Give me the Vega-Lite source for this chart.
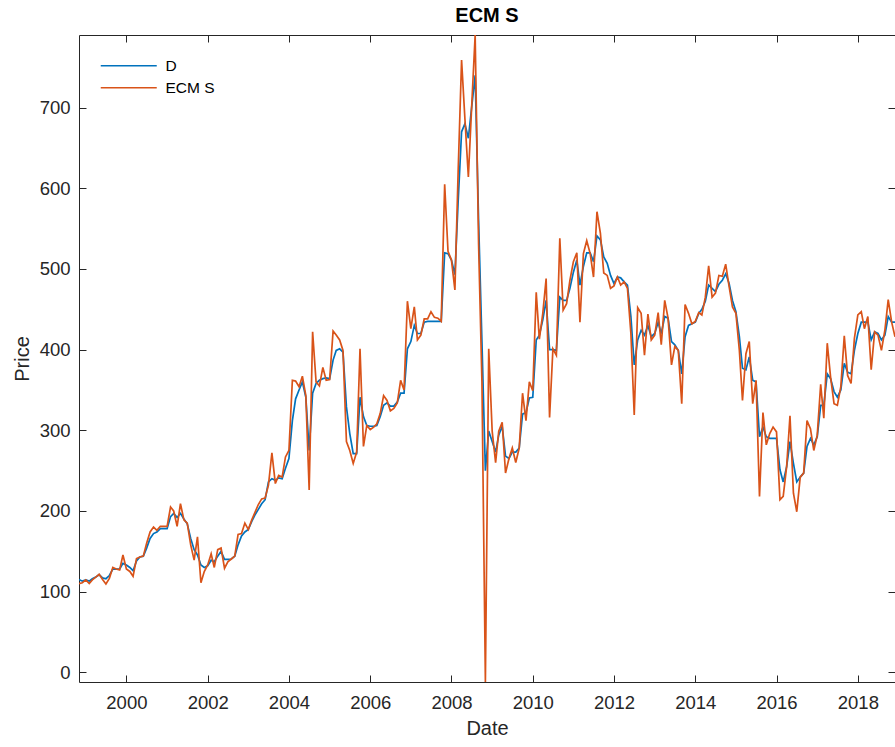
{
  "$schema": "https://vega.github.io/schema/vega-lite/v6.json",
  "width": 816,
  "height": 647,
  "autosize": "none",
  "padding": {"left": 79, "top": 35, "right": 0, "bottom": 65},
  "background": "white",
  "title": {"text": "ECM S", "fontSize": 20, "fontWeight": "bold", "font": "Liberation Sans", "color": "#000000", "offset": 9, "anchor": "middle"},
  "config": {
    "view": {"stroke": null},
    "font": "Liberation Sans",
    "axis": {"domainColor": "#262626", "tickColor": "#262626", "labelColor": "#262626", "titleColor": "#262626", "labelFont": "Liberation Sans", "titleFont": "Liberation Sans", "labelFontSize": 18.5, "titleFontSize": 20, "titleFontWeight": "normal", "grid": false, "tickSize": -7, "domainWidth": 1, "tickWidth": 1}
  },
  "data": {"values": [
{"date":"1998-11-01","D":115,"ECM S":110},
{"date":"1998-12-01","D":113,"ECM S":111},
{"date":"1999-01-01","D":114.5,"ECM S":114.5},
{"date":"1999-02-01","D":113,"ECM S":110},
{"date":"1999-03-01","D":116,"ECM S":114.5},
{"date":"1999-04-01","D":118,"ECM S":118},
{"date":"1999-05-01","D":121,"ECM S":121.5},
{"date":"1999-06-01","D":117,"ECM S":115},
{"date":"1999-07-01","D":116,"ECM S":109.5},
{"date":"1999-08-01","D":120,"ECM S":116.5},
{"date":"1999-09-01","D":128,"ECM S":130},
{"date":"1999-10-01","D":128,"ECM S":128},
{"date":"1999-11-01","D":128,"ECM S":127},
{"date":"1999-12-01","D":135,"ECM S":145.5},
{"date":"2000-01-01","D":133,"ECM S":128},
{"date":"2000-02-01","D":130,"ECM S":125},
{"date":"2000-03-01","D":126,"ECM S":119},
{"date":"2000-04-01","D":138,"ECM S":141},
{"date":"2000-05-01","D":143,"ECM S":143},
{"date":"2000-06-01","D":144,"ECM S":144},
{"date":"2000-07-01","D":154,"ECM S":160},
{"date":"2000-08-01","D":166,"ECM S":174},
{"date":"2000-09-01","D":172,"ECM S":180},
{"date":"2000-10-01","D":174,"ECM S":176},
{"date":"2000-11-01","D":178,"ECM S":181},
{"date":"2000-12-01","D":178,"ECM S":181},
{"date":"2001-01-01","D":178,"ECM S":181},
{"date":"2001-02-01","D":193,"ECM S":205},
{"date":"2001-03-01","D":197,"ECM S":200},
{"date":"2001-04-01","D":192,"ECM S":181},
{"date":"2001-05-01","D":197,"ECM S":209},
{"date":"2001-06-01","D":190,"ECM S":189},
{"date":"2001-07-01","D":184,"ECM S":185},
{"date":"2001-08-01","D":166,"ECM S":158},
{"date":"2001-09-01","D":152,"ECM S":139},
{"date":"2001-10-01","D":145.5,"ECM S":168},
{"date":"2001-11-01","D":133,"ECM S":111},
{"date":"2001-12-01","D":130,"ECM S":125},
{"date":"2002-01-01","D":132,"ECM S":133},
{"date":"2002-02-01","D":139,"ECM S":147},
{"date":"2002-03-01","D":137,"ECM S":130},
{"date":"2002-04-01","D":144,"ECM S":152},
{"date":"2002-05-01","D":150,"ECM S":154},
{"date":"2002-06-01","D":140,"ECM S":129},
{"date":"2002-07-01","D":140,"ECM S":137},
{"date":"2002-08-01","D":140.5,"ECM S":140.5},
{"date":"2002-09-01","D":144,"ECM S":144},
{"date":"2002-10-01","D":158,"ECM S":171},
{"date":"2002-11-01","D":169,"ECM S":172},
{"date":"2002-12-01","D":174,"ECM S":185},
{"date":"2003-01-01","D":177,"ECM S":177},
{"date":"2003-02-01","D":187,"ECM S":189},
{"date":"2003-03-01","D":195,"ECM S":198},
{"date":"2003-04-01","D":202,"ECM S":208},
{"date":"2003-05-01","D":209,"ECM S":215},
{"date":"2003-06-01","D":214,"ECM S":216},
{"date":"2003-07-01","D":236,"ECM S":232},
{"date":"2003-08-01","D":240,"ECM S":272},
{"date":"2003-09-01","D":238,"ECM S":234},
{"date":"2003-10-01","D":241,"ECM S":244},
{"date":"2003-11-01","D":240,"ECM S":242},
{"date":"2003-12-01","D":253,"ECM S":267},
{"date":"2004-01-01","D":265,"ECM S":275},
{"date":"2004-02-01","D":312,"ECM S":362},
{"date":"2004-03-01","D":339,"ECM S":361},
{"date":"2004-04-01","D":350,"ECM S":354},
{"date":"2004-05-01","D":360,"ECM S":367},
{"date":"2004-06-01","D":341,"ECM S":343},
{"date":"2004-07-01","D":275,"ECM S":226},
{"date":"2004-08-01","D":346,"ECM S":422},
{"date":"2004-09-01","D":358,"ECM S":360},
{"date":"2004-10-01","D":362,"ECM S":355},
{"date":"2004-11-01","D":364,"ECM S":378},
{"date":"2004-12-01","D":365,"ECM S":362},
{"date":"2005-01-01","D":364,"ECM S":363},
{"date":"2005-02-01","D":387,"ECM S":423},
{"date":"2005-03-01","D":399,"ECM S":418},
{"date":"2005-04-01","D":401,"ECM S":412},
{"date":"2005-05-01","D":397,"ECM S":399},
{"date":"2005-06-01","D":329,"ECM S":286},
{"date":"2005-07-01","D":296,"ECM S":275},
{"date":"2005-08-01","D":271,"ECM S":259},
{"date":"2005-09-01","D":271,"ECM S":273},
{"date":"2005-10-01","D":341,"ECM S":401},
{"date":"2005-11-01","D":317,"ECM S":280},
{"date":"2005-12-01","D":306,"ECM S":306},
{"date":"2006-01-01","D":305,"ECM S":301},
{"date":"2006-02-01","D":305,"ECM S":304},
{"date":"2006-03-01","D":306,"ECM S":308},
{"date":"2006-04-01","D":317,"ECM S":321},
{"date":"2006-05-01","D":331,"ECM S":343},
{"date":"2006-06-01","D":334,"ECM S":337},
{"date":"2006-07-01","D":330,"ECM S":324},
{"date":"2006-08-01","D":330,"ECM S":327},
{"date":"2006-09-01","D":335,"ECM S":334},
{"date":"2006-10-01","D":346,"ECM S":362},
{"date":"2006-11-01","D":346,"ECM S":350},
{"date":"2006-12-01","D":401,"ECM S":460},
{"date":"2007-01-01","D":410,"ECM S":426},
{"date":"2007-02-01","D":430,"ECM S":453},
{"date":"2007-03-01","D":420,"ECM S":412},
{"date":"2007-04-01","D":420,"ECM S":418},
{"date":"2007-05-01","D":434,"ECM S":438},
{"date":"2007-06-01","D":435,"ECM S":438},
{"date":"2007-07-01","D":435,"ECM S":447},
{"date":"2007-08-01","D":435,"ECM S":440},
{"date":"2007-09-01","D":435,"ECM S":439},
{"date":"2007-10-01","D":435,"ECM S":435},
{"date":"2007-11-01","D":520,"ECM S":605},
{"date":"2007-12-01","D":519,"ECM S":522},
{"date":"2008-01-01","D":511,"ECM S":511},
{"date":"2008-02-01","D":493,"ECM S":474},
{"date":"2008-03-01","D":583,"ECM S":620},
{"date":"2008-04-01","D":670,"ECM S":759},
{"date":"2008-05-01","D":680,"ECM S":686},
{"date":"2008-06-01","D":662,"ECM S":614},
{"date":"2008-07-01","D":701,"ECM S":702},
{"date":"2008-08-01","D":740,"ECM S":790},
{"date":"2008-09-01","D":560,"ECM S":530},
{"date":"2008-10-01","D":410,"ECM S":360},
{"date":"2008-11-01","D":250,"ECM S":-12},
{"date":"2008-12-01","D":299,"ECM S":401},
{"date":"2009-01-01","D":286,"ECM S":299},
{"date":"2009-02-01","D":273,"ECM S":260},
{"date":"2009-03-01","D":294,"ECM S":299},
{"date":"2009-04-01","D":305,"ECM S":310},
{"date":"2009-05-01","D":268,"ECM S":247},
{"date":"2009-06-01","D":265,"ECM S":265},
{"date":"2009-07-01","D":273,"ECM S":278},
{"date":"2009-08-01","D":273,"ECM S":260},
{"date":"2009-09-01","D":278,"ECM S":278},
{"date":"2009-10-01","D":320,"ECM S":346},
{"date":"2009-11-01","D":322,"ECM S":312},
{"date":"2009-12-01","D":340,"ECM S":360},
{"date":"2010-01-01","D":341,"ECM S":349},
{"date":"2010-02-01","D":412,"ECM S":471},
{"date":"2010-03-01","D":418,"ECM S":413},
{"date":"2010-04-01","D":437,"ECM S":445},
{"date":"2010-05-01","D":461,"ECM S":488},
{"date":"2010-06-01","D":400,"ECM S":316},
{"date":"2010-07-01","D":400,"ECM S":401},
{"date":"2010-08-01","D":399,"ECM S":393},
{"date":"2010-09-01","D":465,"ECM S":538},
{"date":"2010-10-01","D":461,"ECM S":449},
{"date":"2010-11-01","D":461,"ECM S":457},
{"date":"2010-12-01","D":476,"ECM S":486},
{"date":"2011-01-01","D":496,"ECM S":509},
{"date":"2011-02-01","D":511,"ECM S":520},
{"date":"2011-03-01","D":480,"ECM S":434},
{"date":"2011-04-01","D":503,"ECM S":519},
{"date":"2011-05-01","D":520,"ECM S":535},
{"date":"2011-06-01","D":520,"ECM S":519},
{"date":"2011-07-01","D":509,"ECM S":490},
{"date":"2011-08-01","D":541,"ECM S":571},
{"date":"2011-09-01","D":536,"ECM S":544},
{"date":"2011-10-01","D":515,"ECM S":495},
{"date":"2011-11-01","D":507,"ECM S":492},
{"date":"2011-12-01","D":492,"ECM S":476},
{"date":"2012-01-01","D":482,"ECM S":479},
{"date":"2012-02-01","D":490,"ECM S":490},
{"date":"2012-03-01","D":489,"ECM S":480},
{"date":"2012-04-01","D":484,"ECM S":484},
{"date":"2012-05-01","D":480,"ECM S":476},
{"date":"2012-06-01","D":441,"ECM S":420},
{"date":"2012-07-01","D":381,"ECM S":319},
{"date":"2012-08-01","D":412,"ECM S":452},
{"date":"2012-09-01","D":424,"ECM S":445},
{"date":"2012-10-01","D":418,"ECM S":393},
{"date":"2012-11-01","D":430,"ECM S":444},
{"date":"2012-12-01","D":416,"ECM S":412},
{"date":"2013-01-01","D":420,"ECM S":418},
{"date":"2013-02-01","D":434,"ECM S":446},
{"date":"2013-03-01","D":420,"ECM S":406},
{"date":"2013-04-01","D":441,"ECM S":461},
{"date":"2013-05-01","D":439,"ECM S":439},
{"date":"2013-06-01","D":410,"ECM S":381},
{"date":"2013-07-01","D":406,"ECM S":404},
{"date":"2013-08-01","D":399,"ECM S":399},
{"date":"2013-09-01","D":370,"ECM S":333},
{"date":"2013-10-01","D":416,"ECM S":456},
{"date":"2013-11-01","D":430,"ECM S":445},
{"date":"2013-12-01","D":432,"ECM S":432},
{"date":"2014-01-01","D":434,"ECM S":435},
{"date":"2014-02-01","D":445,"ECM S":446},
{"date":"2014-03-01","D":450,"ECM S":443},
{"date":"2014-04-01","D":460,"ECM S":465},
{"date":"2014-05-01","D":480,"ECM S":504},
{"date":"2014-06-01","D":476,"ECM S":465},
{"date":"2014-07-01","D":472,"ECM S":470},
{"date":"2014-08-01","D":481,"ECM S":492},
{"date":"2014-09-01","D":486,"ECM S":491},
{"date":"2014-10-01","D":494,"ECM S":506},
{"date":"2014-11-01","D":482,"ECM S":478},
{"date":"2014-12-01","D":461,"ECM S":453},
{"date":"2015-01-01","D":447,"ECM S":445},
{"date":"2015-02-01","D":416,"ECM S":399},
{"date":"2015-03-01","D":377,"ECM S":337},
{"date":"2015-04-01","D":375,"ECM S":395},
{"date":"2015-05-01","D":391,"ECM S":410},
{"date":"2015-06-01","D":362,"ECM S":333},
{"date":"2015-07-01","D":360,"ECM S":362},
{"date":"2015-08-01","D":292,"ECM S":218},
{"date":"2015-09-01","D":304,"ECM S":322},
{"date":"2015-10-01","D":292,"ECM S":282},
{"date":"2015-11-01","D":290,"ECM S":296},
{"date":"2015-12-01","D":290,"ECM S":304},
{"date":"2016-01-01","D":290,"ECM S":298},
{"date":"2016-02-01","D":251,"ECM S":214},
{"date":"2016-03-01","D":236,"ECM S":218},
{"date":"2016-04-01","D":255,"ECM S":255},
{"date":"2016-05-01","D":286,"ECM S":318},
{"date":"2016-06-01","D":259,"ECM S":222},
{"date":"2016-07-01","D":236,"ECM S":199},
{"date":"2016-08-01","D":242,"ECM S":242},
{"date":"2016-09-01","D":247,"ECM S":247},
{"date":"2016-10-01","D":280,"ECM S":312},
{"date":"2016-11-01","D":290,"ECM S":302},
{"date":"2016-12-01","D":282,"ECM S":275},
{"date":"2017-01-01","D":292,"ECM S":294},
{"date":"2017-02-01","D":331,"ECM S":357},
{"date":"2017-03-01","D":331,"ECM S":315},
{"date":"2017-04-01","D":370,"ECM S":408},
{"date":"2017-05-01","D":364,"ECM S":366},
{"date":"2017-06-01","D":348,"ECM S":333},
{"date":"2017-07-01","D":341,"ECM S":331},
{"date":"2017-08-01","D":350,"ECM S":354},
{"date":"2017-09-01","D":383,"ECM S":417},
{"date":"2017-10-01","D":372,"ECM S":368},
{"date":"2017-11-01","D":370,"ECM S":358},
{"date":"2017-12-01","D":399,"ECM S":414},
{"date":"2018-01-01","D":420,"ECM S":443},
{"date":"2018-02-01","D":434,"ECM S":447},
{"date":"2018-03-01","D":434,"ECM S":426},
{"date":"2018-04-01","D":434,"ECM S":441},
{"date":"2018-05-01","D":412,"ECM S":375},
{"date":"2018-06-01","D":422,"ECM S":422},
{"date":"2018-07-01","D":420,"ECM S":418},
{"date":"2018-08-01","D":412,"ECM S":399},
{"date":"2018-09-01","D":418,"ECM S":424},
{"date":"2018-10-01","D":441,"ECM S":462},
{"date":"2018-11-01","D":434,"ECM S":434},
{"date":"2018-12-01","D":434,"ECM S":416}
  ]},
  "transform": [{"fold": ["D", "ECM S"], "as": ["series", "price"]}],
  "layer": [
    {
      "mark": {"type": "line", "strokeWidth": 1.7, "clip": true},
      "encoding": {
        "x": {"field": "date", "type": "temporal", "scale": {"type": "utc", "domain": [{"year": 1998, "month": 11, "date": 1, "utc": true}, {"year": 2018, "month": 12, "date": 1, "utc": true}], "nice": false},
          "axis": {"orient": "bottom", "title": "Date", "format": "%Y", "values": [{"year": 2000, "utc": true}, {"year": 2002, "utc": true}, {"year": 2004, "utc": true}, {"year": 2006, "utc": true}, {"year": 2008, "utc": true}, {"year": 2010, "utc": true}, {"year": 2012, "utc": true}, {"year": 2014, "utc": true}, {"year": 2016, "utc": true}, {"year": 2018, "utc": true}], "labelPadding": 18, "titlePadding": 7, "labelFlush": false}},
        "y": {"field": "price", "type": "quantitative", "scale": {"domain": [-12, 790], "nice": false, "zero": false},
          "axis": {"orient": "left", "title": "Price", "values": [0, 100, 200, 300, 400, 500, 600, 700], "labelPadding": 16, "titlePadding": 7, "labelFlush": false}},
        "color": {"field": "series", "type": "nominal", "scale": {"domain": ["D", "ECM S"], "range": ["#0072BD", "#D95319"]},
          "legend": {"orient": "none", "legendX": 42, "legendY": 23, "title": null, "symbolType": "M-28,0H28", "symbolSize": 4, "symbolStrokeWidth": 1.7, "labelFontSize": 15.5, "labelFont": "Liberation Sans", "labelColor": "#000000", "labelOffset": 29, "padding": 0, "rowPadding": 5}}
      }
    },
    {
      "mark": {"type": "line", "strokeOpacity": 0, "clip": true},
      "encoding": {
        "x": {"field": "date", "type": "temporal", "axis": {"orient": "top", "title": null, "labels": false, "values": [{"year": 2000, "utc": true}, {"year": 2002, "utc": true}, {"year": 2004, "utc": true}, {"year": 2006, "utc": true}, {"year": 2008, "utc": true}, {"year": 2010, "utc": true}, {"year": 2012, "utc": true}, {"year": 2014, "utc": true}, {"year": 2016, "utc": true}, {"year": 2018, "utc": true}]}},
        "y": {"field": "price", "type": "quantitative", "axis": {"orient": "right", "title": null, "labels": false, "values": [0, 100, 200, 300, 400, 500, 600, 700]}},
        "detail": {"field": "series"}
      }
    }
  ],
  "resolve": {"axis": {"x": "independent", "y": "independent"}}
}
